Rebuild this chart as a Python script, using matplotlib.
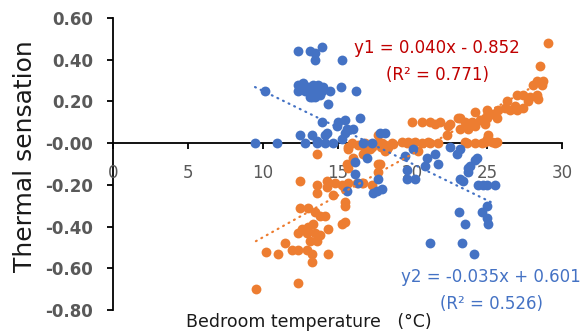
import numpy as np
import matplotlib
matplotlib.use("Agg")
import matplotlib.pyplot as plt

plt.rcParams['axes.unicode_minus'] = False

# series 2 (blue) - bedroom temperature vs thermal sensation
blue_x = [12.36, 13.16, 13.49, 13.96, 13.49, 15.30,
          10.15, 12.36, 12.69, 13.03, 13.36, 13.69, 14.03, 13.29, 13.63, 13.96,
          13.16, 13.49, 13.83, 14.50, 15.23, 14.36, 12.36, 12.83, 13.29, 16.23,
          13.96, 14.30, 15.03, 15.50, 15.50, 12.49, 13.29, 13.63, 14.16, 12.83,
          13.63, 14.16, 14.70, 15.30, 9.49, 10.96, 16.50, 15.63, 16.03, 14.96,
          16.70, 17.30, 17.84, 18.17,
          16.17, 16.17, 16.97, 17.70, 17.97, 17.64, 16.37, 17.37, 15.63, 19.64,
          19.64, 20.17, 19.51, 20.84, 21.71, 21.51, 21.18, 20.04, 20.98, 22.51,
          22.98, 23.85, 24.32, 23.18, 24.18, 23.71, 23.71, 23.38, 23.18, 24.38,
          24.72, 24.98, 25.52, 24.98, 24.65, 24.98, 25.05, 23.11, 23.51, 23.31,
          24.12]
blue_y = [0.44, 0.44, 0.43, 0.46, 0.40, 0.40,
          0.25, 0.28, 0.29, 0.27, 0.28, 0.28, 0.27, 0.25, 0.25, 0.25,
          0.22, 0.22, 0.23, 0.25, 0.27, 0.19, 0.25, 0.25, 0.22, 0.25,
          0.10, 0.05, 0.10, 0.11, 0.05, 0.04, 0.04, 0.01, 0.04, 0.00,
          0.00, 0.00, 0.00, 0.02, 0.00, 0.00, 0.12, 0.07, 0.07, 0.08,
          0.00, 0.00, 0.05, 0.05,
          -0.09, -0.15, -0.07, -0.17, -0.22, -0.23, -0.19, -0.24, -0.23, -0.13,
          -0.17, -0.17, -0.06, -0.11, -0.10, -0.05, -0.48, -0.03, -0.07, -0.02,
          -0.05, -0.11, -0.07, -0.03, -0.08, -0.12, -0.14, -0.18, -0.17, -0.20,
          -0.20, -0.20, -0.20, -0.30, -0.33, -0.36, -0.39, -0.33, -0.39, -0.48,
          -0.53]

# series 1 (orange)
orange_x = [9.55, 12.36, 10.22, 11.02, 11.96, 12.36, 12.96, 13.29, 13.29, 14.36,
            11.49, 12.36, 12.96, 13.49, 12.63, 13.03, 13.36, 13.83, 14.36, 13.63,
            13.16, 12.49, 13.03, 13.49, 13.83, 14.16, 15.30, 13.63, 14.30, 14.70,
            15.50, 12.49, 13.63, 14.30, 14.83, 15.30, 16.30, 16.70, 17.30,
            13.63, 15.70, 16.03, 15.63, 16.70, 17.17, 17.97, 18.30, 15.97, 16.37,
            16.83, 17.30, 17.70, 18.17, 18.64, 19.31, 19.71, 20.17, 20.64, 21.04,
            15.70, 16.83, 18.17, 17.70, 15.70, 15.70, 16.63, 15.50, 15.50, 17.70,
            17.70, 15.50, 16.63, 18.37, 17.90, 20.37, 17.84,
            19.97, 20.64, 21.18, 21.51, 21.84, 22.38, 22.31, 23.18, 23.51, 23.98,
            24.18, 23.18, 23.71, 24.52, 24.98, 24.98, 25.38, 25.65, 26.19, 26.52,
            26.99, 26.32, 26.99, 27.39, 27.86, 28.32, 28.39, 27.72, 28.32, 28.72,
            28.52, 29.06, 24.18, 28.06, 28.66, 26.85, 27.39, 25.72, 24.85, 23.05,
            22.51, 23.85, 24.85,
            18.70, 19.64, 20.04, 21.18, 21.71, 23.65, 24.18, 24.65, 24.98, 25.52,
            23.51, 24.85, 25.32, 25.65, 25.05]
orange_y = [-0.70, -0.67, -0.52, -0.53, -0.51, -0.51, -0.51, -0.53, -0.57, -0.53,
            -0.48, -0.43, -0.43, -0.43, -0.41, -0.40, -0.39, -0.44, -0.41, -0.47,
            -0.47, -0.31, -0.31, -0.33, -0.35, -0.35, -0.39, -0.24, -0.21, -0.25,
            -0.28, -0.18, -0.20, -0.18, -0.19, -0.20, -0.19, -0.19, -0.20,
            -0.05, -0.02, -0.07, -0.10, -0.05, -0.03, 0.00, -0.03, 0.00, -0.01,
            0.00, -0.02, 0.00, -0.01, 0.00, 0.005, 0.005, 0.005, 0.00, 0.005,
            -0.03, -0.04, -0.04, 0.04, -0.12, -0.19, -0.19, -0.30, -0.38, -0.10,
            -0.14, -0.22, -0.01, -0.02, -0.02, -0.04, -0.10,
            0.10, 0.10, 0.10, 0.09, 0.10, 0.08, 0.04, 0.12, 0.10, 0.10,
            0.08, 0.07, 0.07, 0.11, 0.12, 0.16, 0.14, 0.12, 0.17, 0.16,
            0.16, 0.20, 0.23, 0.23, 0.22, 0.23, 0.21, 0.20, 0.30, 0.30,
            0.37, 0.48, 0.15, 0.28, 0.28, 0.18, 0.17, 0.16, 0.12, 0.12,
            0.09, 0.09, 0.09,
            -0.005, 0.00, 0.00, 0.00, 0.00, 0.00, 0.00, 0.00, 0.02, 0.00,
            0.005, 0.005, 0.005, 0.005, 0.04]

# trendline coefficients (as printed on the chart)
fit1 = (0.040, -0.852)   # orange
fit2 = (-0.035, 0.601)   # blue

BLUE = "#4472C4"
ORANGE = "#ED7D31"
GREY = "#595959"

fig = plt.figure(figsize=(5.82, 3.35), dpi=100)
ax = fig.add_axes([113 / 582, 1 - 310 / 335, 449 / 582, 292 / 335])

ax.scatter(orange_x, orange_y, s=50, color=ORANGE, linewidths=0, zorder=2)
ax.scatter(blue_x, blue_y, s=50, color=BLUE, linewidths=0, zorder=2)

# dotted linear trendlines over the data range
xo = np.array([min(orange_x), max(orange_x)])
ax.plot(xo, fit1[0] * xo + fit1[1], color=ORANGE, lw=1.6,
        linestyle=(0, (0.4, 2.4)), dash_capstyle='round', zorder=3)
xb = np.array([min(blue_x), max(blue_x)])
ax.plot(xb, fit2[0] * xb + fit2[1], color=BLUE, lw=1.6,
        linestyle=(0, (0.4, 2.4)), dash_capstyle='round', zorder=3)

ax.set_xlim(0, 30)
ax.set_ylim(-0.8, 0.6)
ax.set_xticks(np.arange(0, 31, 5))
ax.set_yticks(np.arange(-0.8, 0.61, 0.2))
ax.yaxis.set_major_formatter(matplotlib.ticker.FormatStrFormatter('%.2f'))

ax.spines['top'].set_visible(False)
ax.spines['right'].set_visible(False)
ax.spines['bottom'].set_position(('data', 0))
for sp in ('left', 'bottom'):
    ax.spines[sp].set_linewidth(1.3)
    ax.spines[sp].set_color('black')
    ax.spines[sp].set_zorder(1)

ax.tick_params(axis='x', direction='out', length=4, width=1.3,
               labelsize=12, labelcolor=GREY, pad=11)
ax.tick_params(axis='y', direction='out', length=4.5, width=1.3,
               labelsize=12, labelcolor=GREY, pad=10)
for lab in ax.get_yticklabels():
    lab.set_fontweight('bold')

fig.text(25 / 582, 1 - 156 / 335, "Thermal sensation", rotation=90,
         ha='center', va='center', fontsize=18, color='#1a1a1a')
fig.text(309 / 582, 1 - 322 / 335, "Bedroom temperature   (°C)",
         ha='center', va='center', fontsize=12.5, color='#1a1a1a')

fig.text(437 / 582, 1 - 48 / 335, "y1 = 0.040x - 0.852", ha='center',
         va='center', fontsize=12, color='#C00000')
fig.text(437 / 582, 1 - 75 / 335, "(R² = 0.771)", ha='center',
         va='center', fontsize=12, color='#C00000')
fig.text(491 / 582, 1 - 277 / 335, "y2 = -0.035x + 0.601", ha='center',
         va='center', fontsize=12, color=BLUE)
fig.text(492 / 582, 1 - 304 / 335, "(R² = 0.526)", ha='center',
         va='center', fontsize=12, color=BLUE)

fig.savefig("out.png", dpi=100)
